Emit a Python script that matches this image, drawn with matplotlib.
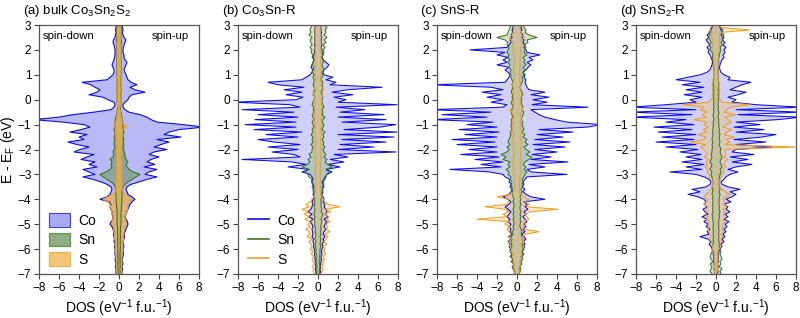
import numpy as np
import matplotlib
matplotlib.use('Agg')
import matplotlib.pyplot as plt
from matplotlib.patches import Patch
from matplotlib.lines import Line2D

plt.rcParams['font.family'] = ['Liberation Sans', 'DejaVu Sans']
plt.rcParams['mathtext.default'] = 'regular'

# energy grid (eV), 0.1 eV steps from -7 to 3
energy = np.round(np.linspace(-7, 3, 101), 2)

titles = ['(a) bulk Co$_3$Sn$_2$S$_2$', '(b) Co$_3$Sn-R', '(c) SnS-R', '(d) SnS$_2$-R']
species = ['Co', 'Sn', 'S']

# ---- (a) bulk ----
co_a_up = [0.3, 0.3, 0.35, 0.3, 0.4, 0.35, 0.3, 0.4, 0.45, 0.4,
           0.4, 0.5, 0.45, 0.4, 0.5, 0.55, 0.5, 0.6, 0.7, 0.8,
           0.9, 0.85, 0.7, 0.6, 0.7, 0.8, 0.9, 1.0, 1.1, 1.3,
           1.6, 1.3, 0.9, 0.8, 0.7, 0.8, 1.2, 2.0, 2.8, 3.8,
           2.6, 3.0, 3.8, 2.5, 3.6, 2.8, 3.2, 4.0, 3.0, 3.5,
           4.8, 3.5, 4.2, 5.0, 3.8, 6.2, 4.5, 5.0, 6.0, 8.5,
           6.4, 3.8, 3.2, 2.8, 2.1, 1.0, 0.6, 0.4, 0.4, 0.6,
           0.9, 1.0, 1.3, 2.6, 1.6, 1.1, 1.8, 1.2, 0.9, 0.8,
           0.7, 0.6, 0.5, 0.6, 0.7, 0.8, 0.6, 0.5, 0.5, 0.4,
           0.4, 0.45, 0.5, 0.6, 0.7, 0.5, 0.4, 0.35, 0.4, 0.35,
           0.3]
co_a_down = [0.3, 0.3, 0.3, 0.35, 0.3, 0.35, 0.4, 0.35, 0.4, 0.4,
             0.4, 0.45, 0.4, 0.5, 0.45, 0.5, 0.55, 0.5, 0.6, 0.7,
             0.9, 0.8, 0.6, 0.6, 0.7, 0.7, 0.8, 0.9, 0.8, 1.0,
             1.9, 1.2, 0.9, 0.8, 0.7, 0.8, 1.2, 1.8, 2.6, 3.6,
             2.4, 3.0, 3.6, 2.2, 3.0, 2.4, 3.8, 3.2, 2.5, 4.5,
             3.9, 3.0, 4.2, 5.1, 3.5, 4.0, 3.2, 4.9, 3.8, 2.9,
             3.5, 5.6, 8.5, 6.0, 4.6, 2.5, 0.8, 0.5, 0.4, 0.5,
             1.1, 1.6, 3.0, 2.2, 1.9, 2.4, 2.8, 3.7, 1.2, 0.9,
             0.6, 0.5, 0.5, 0.6, 0.7, 0.6, 0.5, 0.45, 0.4, 0.4,
             0.4, 0.45, 0.5, 0.6, 0.55, 0.4, 0.35, 0.3, 0.35, 0.3,
             0.3]
sn_a_up = [0.1, 0.12, 0.1, 0.12, 0.1, 0.12, 0.1, 0.12, 0.1, 0.12,
           0.12, 0.15, 0.12, 0.15, 0.12, 0.15, 0.12, 0.15, 0.15, 0.15,
           0.2, 0.2, 0.2, 0.2, 0.2, 0.2, 0.25, 0.25, 0.25, 0.3,
           0.3, 0.3, 0.3, 0.3, 0.35, 0.4, 0.6, 0.9, 1.3, 1.7,
           2.1, 1.4, 1.0, 0.8, 0.7, 0.9, 0.7, 0.6, 0.6, 0.5,
           0.5, 0.4, 0.5, 0.4, 0.5, 0.4, 0.4, 0.5, 0.4, 0.4,
           0.4, 0.35, 0.3, 0.3, 0.25, 0.2, 0.15, 0.15, 0.2, 0.2,
           0.2, 0.2, 0.2, 0.25, 0.25, 0.2, 0.2, 0.2, 0.2, 0.2,
           0.2, 0.2, 0.2, 0.2, 0.2, 0.2, 0.2, 0.2, 0.2, 0.2,
           0.2, 0.2, 0.2, 0.25, 0.2, 0.2, 0.2, 0.2, 0.2, 0.2,
           0.2]
sn_a_down = [0.1, 0.1, 0.12, 0.1, 0.12, 0.1, 0.12, 0.1, 0.12, 0.12,
             0.12, 0.12, 0.15, 0.12, 0.15, 0.12, 0.15, 0.15, 0.15, 0.15,
             0.2, 0.2, 0.2, 0.2, 0.2, 0.2, 0.2, 0.25, 0.25, 0.3,
             0.3, 0.3, 0.3, 0.35, 0.35, 0.4, 0.5, 0.8, 1.2, 1.6,
             1.9, 1.3, 0.9, 0.7, 0.8, 0.7, 0.9, 0.6, 0.5, 0.6,
             0.5, 0.4, 0.5, 0.5, 0.4, 0.5, 0.4, 0.4, 0.5, 0.4,
             0.4, 0.4, 0.35, 0.3, 0.25, 0.2, 0.15, 0.15, 0.15, 0.2,
             0.2, 0.2, 0.2, 0.2, 0.25, 0.2, 0.2, 0.2, 0.2, 0.2,
             0.2, 0.2, 0.2, 0.2, 0.2, 0.2, 0.2, 0.2, 0.2, 0.2,
             0.2, 0.2, 0.2, 0.2, 0.25, 0.2, 0.2, 0.2, 0.2, 0.2,
             0.2]
s_a_up = [0.2, 0.25, 0.2, 0.3, 0.25, 0.3, 0.25, 0.3, 0.35, 0.3,
          0.35, 0.4, 0.35, 0.4, 0.45, 0.4, 0.45, 0.5, 0.55, 0.6,
          0.7, 0.65, 0.6, 0.6, 0.7, 0.8, 0.85, 0.9, 0.9, 1.0,
          1.3, 1.0, 0.6, 0.4, 0.3, 0.3, 0.3, 0.25, 0.25, 0.25,
          0.25, 0.25, 0.2, 0.25, 0.2, 0.25, 0.2, 0.2, 0.25, 0.2,
          0.25, 0.2, 0.25, 0.3, 0.25, 0.3, 0.35, 0.3, 0.4, 0.8,
          0.5, 0.3, 0.25, 0.2, 0.2, 0.15, 0.1, 0.1, 0.15, 0.15,
          0.2, 0.2, 0.25, 0.2, 0.2, 0.2, 0.25, 0.2, 0.2, 0.2,
          0.15, 0.15, 0.15, 0.15, 0.15, 0.15, 0.15, 0.15, 0.15, 0.15,
          0.15, 0.15, 0.15, 0.15, 0.15, 0.15, 0.15, 0.15, 0.15, 0.15,
          0.15]
s_a_down = [0.2, 0.2, 0.25, 0.2, 0.3, 0.25, 0.3, 0.3, 0.3, 0.35,
            0.35, 0.35, 0.4, 0.35, 0.4, 0.45, 0.4, 0.5, 0.5, 0.55,
            0.7, 0.7, 0.6, 0.55, 0.65, 0.75, 0.8, 0.85, 0.9, 1.1,
            1.6, 1.1, 0.6, 0.4, 0.3, 0.3, 0.3, 0.25, 0.25, 0.25,
            0.25, 0.2, 0.25, 0.2, 0.25, 0.2, 0.25, 0.2, 0.2, 0.25,
            0.2, 0.25, 0.2, 0.3, 0.25, 0.3, 0.3, 0.35, 0.3, 0.4,
            0.4, 0.3, 0.25, 0.2, 0.2, 0.15, 0.1, 0.1, 0.15, 0.15,
            0.2, 0.2, 0.2, 0.25, 0.2, 0.2, 0.2, 0.2, 0.2, 0.2,
            0.15, 0.15, 0.15, 0.15, 0.15, 0.15, 0.15, 0.15, 0.15, 0.15,
            0.15, 0.15, 0.15, 0.15, 0.15, 0.15, 0.15, 0.15, 0.15, 0.15,
            0.15]

# ---- (b) Co3Sn-R ----
co_b_up = [0.2, 0.25, 0.2, 0.3, 0.25, 0.3, 0.35, 0.3, 0.4, 0.35,
           0.4, 0.5, 0.4, 0.6, 0.5, 0.7, 0.5, 0.6, 0.8, 0.6,
           0.7, 0.9, 0.6, 1.0, 0.7, 0.9, 0.8, 0.6, 0.7, 0.5,
           0.6, 0.5, 0.4, 0.5, 0.4, 0.6, 0.5, 0.4, 0.6, 0.7,
           0.9, 1.4, 0.8, 2.2, 1.0, 2.6, 1.2, 3.0, 1.6, 7.8,
           2.0, 5.6, 2.2, 6.8, 2.4, 7.6, 2.0, 7.9, 2.6, 6.2,
           7.8, 2.4, 6.8, 2.0, 6.6, 2.2, 4.7, 1.8, 7.9, 2.0,
           2.8, 1.6, 3.5, 1.4, 3.0, 6.4, 1.2, 1.8, 0.8, 1.5,
           0.6, 0.5, 0.6, 0.9, 1.1, 0.8, 0.5, 0.4, 0.5, 0.4,
           0.4, 0.3, 0.4, 0.35, 0.3, 0.4, 0.3, 0.35, 0.3, 0.3,
           0.3]
co_b_down = [0.2, 0.2, 0.25, 0.2, 0.3, 0.25, 0.3, 0.3, 0.35, 0.3,
             0.4, 0.45, 0.4, 0.5, 0.45, 0.6, 0.5, 0.55, 0.6, 0.5,
             0.6, 0.8, 0.5, 0.9, 0.6, 1.0, 0.7, 0.6, 0.5, 0.6,
             0.5, 0.4, 0.5, 0.4, 0.5, 0.4, 0.5, 0.6, 0.5, 0.6,
             0.8, 1.6, 0.9, 3.0, 1.2, 2.6, 7.6, 1.8, 2.4, 4.6,
             2.0, 5.0, 1.8, 4.4, 6.0, 2.0, 5.2, 1.6, 6.4, 2.2,
             7.3, 2.2, 6.3, 2.0, 6.0, 2.4, 7.6, 1.8, 2.8, 8.5,
             2.2, 1.5, 3.2, 1.6, 3.4, 1.4, 4.0, 5.0, 1.6, 1.2,
             0.8, 0.6, 0.5, 0.7, 0.6, 0.5, 0.4, 0.5, 0.4, 0.35,
             0.35, 0.3, 0.35, 0.3, 0.35, 0.3, 0.3, 0.35, 0.3, 0.3,
             0.3]
sn_b_up = [0.1, 0.15, 0.1, 0.2, 0.15, 0.1, 0.2, 0.15, 0.2, 0.2,
           0.2, 0.3, 0.2, 0.25, 0.3, 0.2, 0.3, 0.25, 0.3, 0.3,
           0.3, 0.4, 0.3, 0.4, 0.5, 0.3, 0.4, 0.3, 0.3, 0.3,
           0.3, 0.35, 0.3, 0.4, 0.5, 0.4, 0.6, 0.5, 0.7, 0.8,
           0.9, 1.1, 0.8, 1.4, 1.0, 0.7, 0.9, 0.6, 0.8, 0.6,
           0.5, 0.7, 0.5, 0.6, 0.4, 0.6, 0.5, 0.7, 0.4, 0.5,
           0.6, 0.4, 0.5, 0.7, 0.4, 0.5, 0.4, 0.6, 0.5, 0.4,
           0.4, 0.5, 0.4, 0.3, 0.4, 0.5, 0.4, 0.5, 0.3, 0.4,
           0.5, 0.4, 0.6, 0.5, 0.4, 0.5, 0.6, 0.4, 0.5, 0.6,
           0.5, 0.7, 0.5, 0.8, 0.6, 0.9, 0.6, 0.8, 0.7, 0.9,
           0.6]
sn_b_down = [0.15, 0.1, 0.2, 0.1, 0.15, 0.2, 0.15, 0.2, 0.15, 0.25,
             0.2, 0.25, 0.3, 0.2, 0.3, 0.25, 0.2, 0.3, 0.25, 0.3,
             0.35, 0.3, 0.4, 0.3, 0.4, 0.35, 0.3, 0.4, 0.3, 0.35,
             0.3, 0.4, 0.35, 0.5, 0.4, 0.6, 0.5, 0.7, 0.6, 0.9,
             1.0, 1.3, 0.9, 1.6, 1.1, 0.8, 1.0, 0.7, 0.9, 0.6,
             0.6, 0.5, 0.7, 0.5, 0.6, 0.5, 0.7, 0.5, 0.6, 0.4,
             0.5, 0.6, 0.4, 0.5, 0.6, 0.4, 0.5, 0.4, 0.6, 0.5,
             0.4, 0.3, 0.5, 0.4, 0.3, 0.4, 0.5, 0.4, 0.4, 0.5,
             0.4, 0.6, 0.5, 0.4, 0.6, 0.5, 0.4, 0.6, 0.5, 0.7,
             0.6, 0.8, 0.6, 0.7, 0.8, 0.6, 0.9, 0.7, 0.8, 0.7,
             0.6]
s_b_up = [0.3, 0.4, 0.5, 0.3, 0.6, 0.4, 0.7, 0.5, 0.8, 0.6,
          0.7, 0.5, 0.9, 0.6, 0.8, 1.0, 0.7, 1.2, 0.8, 1.0,
          0.8, 1.2, 0.9, 1.1, 0.7, 1.3, 0.8, 2.2, 1.0, 0.7,
          0.5, 0.4, 0.3, 0.25, 0.2, 0.25, 0.2, 0.2, 0.25, 0.2,
          0.25, 0.3, 0.2, 0.3, 0.25, 0.2, 0.3, 0.25, 0.3, 0.25,
          0.3, 0.25, 0.35, 0.3, 0.25, 0.3, 0.35, 0.3, 0.25, 0.3,
          0.3, 0.35, 0.3, 0.4, 0.3, 0.35, 0.3, 0.4, 0.3, 0.35,
          0.3, 0.4, 0.5, 0.4, 0.6, 0.4, 0.3, 0.25, 0.3, 0.25,
          0.3, 0.25, 0.3, 0.35, 0.3, 0.25, 0.3, 0.25, 0.3, 0.3,
          0.3, 0.25, 0.3, 0.3, 0.25, 0.3, 0.3, 0.25, 0.3, 0.3,
          0.3]
s_b_down = [0.3, 0.5, 0.4, 0.6, 0.3, 0.5, 0.6, 0.4, 0.7, 0.5,
            0.8, 0.6, 0.7, 0.9, 0.6, 1.1, 0.8, 0.9, 1.2, 0.8,
            1.0, 0.8, 1.3, 0.9, 1.4, 1.0, 1.6, 0.9, 1.2, 0.8,
            0.6, 0.4, 0.3, 0.25, 0.2, 0.2, 0.25, 0.2, 0.2, 0.25,
            0.25, 0.3, 0.25, 0.3, 0.2, 0.3, 0.25, 0.3, 0.25, 0.3,
            0.25, 0.3, 0.3, 0.25, 0.35, 0.3, 0.3, 0.35, 0.3, 0.25,
            0.35, 0.3, 0.4, 0.3, 0.35, 0.4, 0.3, 0.35, 0.3, 0.4,
            0.35, 0.3, 0.4, 0.5, 0.4, 0.3, 0.35, 0.3, 0.25, 0.3,
            0.25, 0.3, 0.3, 0.25, 0.3, 0.3, 0.25, 0.3, 0.3, 0.25,
            0.3, 0.3, 0.25, 0.3, 0.3, 0.25, 0.3, 0.3, 0.25, 0.3,
            0.3]

# ---- (c) SnS-R ----
co_c_up = [0.2, 0.3, 0.2, 0.3, 0.4, 0.3, 0.5, 0.4, 0.6, 0.5,
           0.7, 0.5, 0.8, 0.6, 0.9, 0.7, 0.5, 0.8, 0.6, 0.9,
           0.7, 1.0, 0.8, 0.6, 0.9, 0.7, 1.1, 0.8, 1.0, 0.7,
           2.8, 1.4, 0.9, 0.6, 0.8, 0.5, 0.7, 0.6, 0.8, 1.0,
           5.0, 1.4, 1.0, 2.8, 1.2, 5.1, 1.4, 3.4, 1.5, 4.0,
           1.8, 4.8, 1.6, 5.3, 1.8, 4.6, 2.0, 5.6, 2.2, 7.0,
           8.5, 5.0, 3.8, 2.8, 2.2, 1.8, 1.4, 7.1, 1.5, 3.0,
           1.6, 3.2, 1.4, 2.8, 1.2, 1.0, 0.9, 0.8, 0.9, 0.7,
           0.8, 0.6, 0.9, 1.1, 1.4, 1.0, 1.6, 1.2, 2.3, 1.0,
           0.9, 0.7, 0.8, 0.6, 0.7, 0.5, 0.6, 0.4, 0.5, 0.4,
           0.4]
co_c_down = [0.2, 0.3, 0.25, 0.4, 0.3, 0.5, 0.4, 0.6, 0.5, 0.7,
             0.6, 0.8, 0.5, 0.9, 0.6, 0.8, 0.5, 0.7, 0.6, 0.8,
             0.6, 0.9, 0.7, 1.0, 0.8, 0.6, 0.9, 1.2, 0.8, 0.6,
             0.9, 1.4, 0.8, 0.6, 0.5, 0.7, 0.6, 0.8, 0.7, 1.2,
             1.4, 2.8, 6.7, 1.6, 3.6, 1.4, 4.2, 1.8, 5.6, 2.0,
             4.8, 2.0, 6.0, 2.2, 6.5, 2.0, 5.2, 1.8, 5.8, 2.0,
             5.0, 2.4, 8.5, 3.0, 7.5, 2.6, 8.5, 1.4, 1.0, 2.6,
             1.4, 3.0, 1.6, 3.5, 1.4, 2.6, 8.5, 1.2, 1.0, 0.8,
             0.7, 0.9, 1.2, 0.8, 2.0, 1.0, 1.4, 0.9, 2.0, 1.2,
             4.7, 1.0, 0.8, 0.6, 0.7, 0.5, 0.6, 0.4, 0.5, 0.4,
             0.4]
sn_c_up = [0.2, 0.3, 0.4, 0.3, 0.5, 0.4, 0.6, 0.5, 0.7, 0.5,
           0.6, 0.8, 0.5, 0.7, 0.6, 0.5, 0.4, 0.5, 0.4, 0.3,
           0.3, 0.4, 0.3, 0.4, 0.3, 0.4, 0.3, 0.3, 0.4, 0.3,
           0.4, 0.3, 0.4, 0.5, 0.4, 0.6, 0.5, 0.6, 0.5, 0.7,
           0.8, 1.0, 0.7, 0.9, 0.6, 0.8, 1.2, 1.5, 0.9, 1.3,
           0.9, 0.7, 1.1, 0.8, 1.0, 0.6, 0.8, 0.5, 0.7, 0.6,
           0.5, 0.6, 0.4, 0.5, 0.6, 0.7, 0.5, 0.6, 0.5, 0.4,
           0.5, 0.4, 0.6, 0.5, 0.4, 0.3, 0.4, 0.5, 0.6, 0.5,
           0.7, 0.6, 0.8, 0.6, 0.9, 0.7, 0.8, 0.6, 1.0, 0.7,
           0.8, 0.9, 0.7, 1.1, 1.0, 2.0, 1.2, 0.8, 0.9, 0.7,
           0.6]
sn_c_down = [0.3, 0.2, 0.4, 0.5, 0.3, 0.6, 0.4, 0.7, 0.5, 0.6,
             0.7, 0.5, 0.8, 0.6, 0.5, 0.6, 0.4, 0.5, 0.3, 0.4,
             0.3, 0.3, 0.4, 0.3, 0.4, 0.3, 0.4, 0.3, 0.3, 0.4,
             0.3, 0.4, 0.5, 0.4, 0.5, 0.5, 0.6, 0.5, 0.7, 0.6,
             0.9, 0.8, 1.1, 0.7, 0.9, 0.7, 1.4, 1.1, 1.6, 1.0,
             0.8, 1.0, 0.7, 0.9, 0.8, 0.7, 0.6, 0.7, 0.5, 0.6,
             0.6, 0.5, 0.6, 0.4, 0.5, 0.6, 0.5, 0.4, 0.5, 0.6,
             0.4, 0.5, 0.4, 0.6, 0.5, 0.4, 0.5, 0.4, 0.5, 0.6,
             0.6, 0.7, 0.6, 0.8, 0.7, 0.9, 0.7, 0.9, 0.8, 1.0,
             0.9, 0.8, 1.0, 0.9, 1.2, 2.0, 1.0, 0.9, 0.8, 0.7,
             0.6]
s_c_up = [0.2, 0.3, 0.2, 0.3, 0.4, 0.3, 0.5, 0.4, 0.5, 0.4,
          0.5, 0.6, 0.4, 0.7, 0.5, 0.6, 0.8, 2.2, 0.7, 0.6,
          0.9, 0.7, 1.2, 1.0, 0.8, 1.4, 4.1, 0.9, 1.2, 0.8,
          1.2, 0.7, 0.3, 0.25, 0.2, 0.25, 0.2, 0.3, 0.25, 0.3,
          0.3, 0.4, 0.3, 0.35, 0.3, 0.4, 0.3, 0.4, 0.35, 0.4,
          0.35, 0.4, 0.3, 0.5, 0.4, 0.3, 0.4, 0.5, 0.4, 0.3,
          0.4, 0.3, 0.5, 0.4, 0.3, 0.4, 0.6, 0.5, 0.4, 0.3,
          0.3, 0.4, 0.5, 0.4, 0.3, 0.35, 0.3, 0.3, 0.25, 0.3,
          0.3, 0.25, 0.3, 0.3, 0.35, 0.3, 0.3, 0.35, 0.3, 0.4,
          0.35, 0.4, 0.6, 0.5, 0.4, 0.8, 0.4, 0.5, 0.3, 0.3,
          0.3]
s_c_down = [0.2, 0.3, 0.25, 0.35, 0.3, 0.4, 0.35, 0.5, 0.4, 0.6,
            0.5, 0.7, 0.6, 0.8, 0.5, 0.9, 0.6, 0.8, 1.0, 0.7,
            1.2, 0.8, 4.0, 1.0, 1.4, 0.8, 1.2, 3.2, 1.0, 0.9,
            0.8, 2.0, 0.6, 0.3, 0.25, 0.2, 0.3, 0.25, 0.3, 0.2,
            0.3, 0.35, 0.4, 0.3, 0.4, 0.35, 0.3, 0.4, 0.3, 0.35,
            0.4, 0.3, 0.4, 0.35, 0.5, 0.4, 0.3, 0.4, 0.5, 0.4,
            0.3, 0.4, 0.5, 0.3, 0.4, 0.5, 0.7, 0.4, 0.3, 0.4,
            0.35, 0.3, 0.4, 0.3, 0.35, 0.3, 0.6, 0.3, 0.25, 0.3,
            0.25, 0.3, 0.3, 0.35, 0.3, 0.3, 0.25, 0.3, 0.35, 0.3,
            0.4, 0.35, 0.5, 0.4, 0.6, 0.8, 0.5, 0.4, 0.3, 0.3,
            0.3]

# ---- (d) SnS2-R ----
co_d_up = [0.15, 0.2, 0.15, 0.2, 0.15, 0.2, 0.2, 0.25, 0.2, 0.3,
           0.4, 0.6, 0.5, 0.8, 0.6, 0.9, 0.7, 1.0, 0.8, 1.1,
           0.9, 1.3, 0.8, 1.2, 0.9, 1.4, 1.0, 1.2, 0.8, 1.5,
           1.0, 1.6, 2.0, 1.4, 2.4, 1.2, 0.6, 0.5, 0.8, 1.0,
           1.4, 2.2, 1.2, 2.0, 3.6, 1.6, 3.2, 1.4, 3.8, 1.6,
           2.0, 5.6, 2.0, 5.0, 1.8, 4.6, 6.0, 2.0, 4.8, 1.8,
           4.4, 2.0, 6.2, 8.5, 2.2, 8.5, 2.0, 8.5, 4.0, 1.6,
           2.0, 1.2, 2.2, 3.0, 1.4, 2.0, 2.6, 3.5, 1.2, 1.4,
           0.8, 0.5, 0.4, 0.35, 0.4, 0.5, 0.6, 0.8, 0.7, 0.9,
           0.8, 1.0, 0.7, 0.9, 0.6, 0.8, 0.5, 0.6, 0.5, 0.4,
           0.4]
co_d_down = [0.15, 0.15, 0.2, 0.15, 0.2, 0.2, 0.25, 0.2, 0.3, 0.25,
             0.4, 0.5, 0.7, 0.5, 0.8, 1.6, 0.7, 0.9, 0.6, 1.0,
             0.8, 1.2, 0.9, 1.4, 0.8, 1.1, 1.3, 0.9, 1.2, 1.0,
             1.2, 1.8, 2.8, 1.6, 2.4, 1.0, 0.6, 0.5, 0.7, 1.2,
             2.0, 4.6, 1.4, 3.0, 1.2, 3.4, 1.4, 3.0, 1.5, 3.6,
             1.8, 5.0, 2.0, 6.0, 2.2, 5.4, 2.0, 5.8, 2.4, 6.2,
             2.2, 5.0, 3.0, 8.5, 2.4, 8.5, 2.0, 8.5, 5.0, 2.0,
             2.6, 1.4, 3.2, 1.4, 3.0, 1.2, 3.4, 1.6, 4.0, 2.8,
             1.6, 0.9, 0.6, 0.5, 0.4, 0.35, 0.4, 0.5, 0.6, 0.8,
             0.7, 0.9, 0.6, 0.8, 1.0, 0.7, 0.9, 0.6, 0.5, 0.4,
             0.4]
sn_d_up = [0.5, 0.4, 0.6, 0.3, 0.5, 0.4, 0.6, 0.5, 0.4, 0.5,
           0.4, 0.3, 0.35, 0.3, 0.25, 0.3, 0.25, 0.3, 0.3, 0.25,
           0.3, 0.25, 0.3, 0.35, 0.3, 0.4, 0.3, 0.35, 0.3, 0.3,
           0.3, 0.35, 0.4, 0.3, 0.4, 0.35, 0.3, 0.35, 0.3, 0.35,
           0.4, 0.5, 0.4, 0.6, 0.5, 0.4, 0.5, 0.6, 0.5, 0.4,
           0.5, 0.4, 0.3, 0.4, 0.35, 0.3, 0.4, 0.3, 0.35, 0.3,
           0.3, 0.25, 0.3, 0.2, 0.25, 0.3, 0.2, 0.25, 0.2, 0.25,
           0.2, 0.25, 0.2, 0.3, 0.2, 0.25, 0.3, 0.25, 0.2, 0.25,
           0.25, 0.2, 0.25, 0.2, 0.25, 0.3, 0.25, 0.3, 0.35, 0.4,
           0.5, 0.4, 0.6, 0.5, 0.7, 0.6, 0.8, 0.6, 0.7, 0.5,
           0.4]
sn_d_down = [0.4, 0.6, 0.5, 0.4, 0.6, 0.3, 0.5, 0.6, 0.5, 0.4,
             0.35, 0.4, 0.3, 0.25, 0.3, 0.25, 0.3, 0.25, 0.3, 0.3,
             0.25, 0.3, 0.35, 0.3, 0.4, 0.3, 0.35, 0.3, 0.35, 0.3,
             0.35, 0.3, 0.4, 0.35, 0.3, 0.4, 0.35, 0.3, 0.35, 0.4,
             0.5, 0.4, 0.6, 0.5, 0.4, 0.6, 0.5, 0.4, 0.5, 0.4,
             0.4, 0.35, 0.4, 0.3, 0.4, 0.35, 0.3, 0.35, 0.3, 0.3,
             0.25, 0.3, 0.2, 0.25, 0.3, 0.2, 0.25, 0.2, 0.25, 0.2,
             0.25, 0.2, 0.3, 0.2, 0.25, 0.2, 0.25, 0.3, 0.2, 0.25,
             0.2, 0.25, 0.2, 0.25, 0.3, 0.25, 0.3, 0.35, 0.3, 0.4,
             0.6, 0.5, 0.7, 0.5, 0.6, 0.8, 0.6, 0.7, 0.6, 0.5,
             0.4]
s_d_up = [0.1, 0.1, 0.15, 0.1, 0.15, 0.1, 0.15, 0.2, 0.15, 0.2,
          0.3, 0.5, 0.4, 0.6, 0.5, 0.7, 0.5, 0.8, 0.6, 0.7,
          0.6, 0.9, 0.7, 1.0, 0.8, 0.9, 0.7, 1.1, 0.8, 0.9,
          0.7, 1.0, 1.4, 1.0, 0.6, 0.4, 0.3, 0.3, 0.4, 0.5,
          0.6, 0.8, 0.7, 1.0, 0.8, 0.9, 1.2, 0.8, 1.0, 0.9,
          1.0, 8.0, 0.9, 1.4, 1.0, 1.8, 0.8, 1.1, 1.6, 0.7,
          1.0, 1.6, 1.2, 0.9, 2.0, 0.8, 1.1, 1.5, 3.4, 0.6,
          0.4, 0.3, 0.35, 0.3, 0.4, 0.3, 0.35, 0.3, 0.25, 0.3,
          0.2, 0.2, 0.2, 0.2, 0.25, 0.2, 0.2, 0.25, 0.2, 0.25,
          0.3, 0.3, 0.35, 0.3, 0.35, 0.4, 0.35, 0.4, 3.4, 0.5,
          0.4]
s_d_down = [0.1, 0.15, 0.1, 0.15, 0.1, 0.15, 0.2, 0.15, 0.2, 0.2,
            0.4, 0.3, 0.5, 0.4, 0.7, 0.5, 0.6, 0.7, 0.8, 0.6,
            0.8, 0.7, 1.0, 0.8, 1.1, 0.9, 1.0, 0.8, 1.2, 0.9,
            0.8, 1.2, 1.0, 0.7, 0.5, 0.4, 0.3, 0.35, 0.4, 0.6,
            0.7, 0.9, 0.8, 1.1, 0.9, 1.0, 0.8, 1.2, 0.9, 1.0,
            1.2, 1.6, 1.0, 2.6, 1.2, 1.0, 1.8, 0.9, 1.3, 0.8,
            1.2, 0.9, 2.2, 1.0, 1.4, 0.9, 1.6, 1.2, 3.3, 0.7,
            0.5, 0.3, 0.4, 0.3, 0.35, 0.3, 0.4, 0.3, 0.3, 0.25,
            0.2, 0.25, 0.2, 0.2, 0.2, 0.25, 0.2, 0.2, 0.25, 0.2,
            0.3, 0.35, 0.3, 0.4, 0.35, 0.4, 0.5, 0.4, 0.6, 0.5,
            0.4]

panels = [
    [(co_a_up, co_a_down), (sn_a_up, sn_a_down), (s_a_up, s_a_down)],
    [(co_b_up, co_b_down), (sn_b_up, sn_b_down), (s_b_up, s_b_down)],
    [(co_c_up, co_c_down), (sn_c_up, sn_c_down), (s_c_up, s_c_down)],
    [(co_d_up, co_d_down), (sn_d_up, sn_d_down), (s_d_up, s_d_down)],
]

line_colors = ['#0c0ce8', '#3a7a1c', '#f0a01e']
fill_colors = ['#8e8ef0', '#6a9458', '#f0b04a']
fill_alpha = [0.62, 0.55, 0.7]
light_fill = ['#7b7bf0', '#7fae6a', '#f2bc5c']

fig = plt.figure(figsize=(8, 3.18), dpi=100)
W, H = 800.0, 318.0
lefts = [39, 238, 437, 636]

for k in range(4):
    ax = fig.add_axes([lefts[k] / W, 44 / H, 160 / W, 249 / H])
    for j in range(3):
        up = np.array(panels[k][j][0])
        dn = -np.array(panels[k][j][1])
        if k == 0:
            ax.fill_betweenx(energy, 0, up, facecolor=fill_colors[j], alpha=fill_alpha[j], lw=0)
            ax.fill_betweenx(energy, 0, dn, facecolor=fill_colors[j], alpha=fill_alpha[j], lw=0)
            ax.plot(up, energy, color=line_colors[j], lw=0.8)
            ax.plot(dn, energy, color=line_colors[j], lw=0.8)
        else:
            ax.fill_betweenx(energy, 0, up, facecolor=light_fill[j], alpha=0.35, lw=0)
            ax.fill_betweenx(energy, 0, dn, facecolor=light_fill[j], alpha=0.35, lw=0)
            ax.plot(up, energy, color=line_colors[j], lw=0.75)
            ax.plot(dn, energy, color=line_colors[j], lw=0.75)

    ax.set_xlim(-8, 8)
    ax.set_ylim(-7, 3)
    ax.set_xticks(np.arange(-8, 9, 2))
    ax.set_yticks(np.arange(-7, 4, 1))
    ax.tick_params(direction='out', length=3.5, width=0.8, labelsize=8.5,
                   pad=2, color='#444444')
    for sp in ax.spines.values():
        sp.set_color('#555555')
        sp.set_linewidth(0.9)
    ax.set_xlabel('DOS (eV$^{-1}$ f.u.$^{-1}$)', fontsize=10, labelpad=3)
    ax.text(0.025, 0.955, 'spin-down', transform=ax.transAxes, fontsize=8.2,
            ha='left', va='center')
    ax.text(0.935, 0.955, 'spin-up', transform=ax.transAxes, fontsize=8.2,
            ha='right', va='center')
    fig.text((lefts[k] - 16) / W, 1 - 11 / H, titles[k], fontsize=9.5,
             ha='left', va='center')

    if k == 0:
        ax.set_ylabel('E - E$_F$ (eV)', fontsize=10)
        ax.yaxis.set_label_coords(-0.135, 0.5)
        handles = [Patch(facecolor=fill_colors[j], edgecolor=line_colors[j],
                         alpha=0.75, lw=0.8) for j in range(3)]
        ax.legend(handles, species, loc='lower left', bbox_to_anchor=(0.0, -0.01),
                  frameon=False, fontsize=10, handlelength=1.5, handleheight=1.15,
                  handletextpad=0.6, labelspacing=0.35, borderaxespad=0.3)
    elif k == 1:
        handles = [Line2D([0], [0], color=line_colors[j], lw=1.2) for j in range(3)]
        ax.legend(handles, species, loc='lower left', bbox_to_anchor=(0.0, -0.01),
                  frameon=False, fontsize=10, handlelength=1.5, handleheight=1.15,
                  handletextpad=0.6, labelspacing=0.35, borderaxespad=0.3)

fig.savefig('out.png', dpi=100)
